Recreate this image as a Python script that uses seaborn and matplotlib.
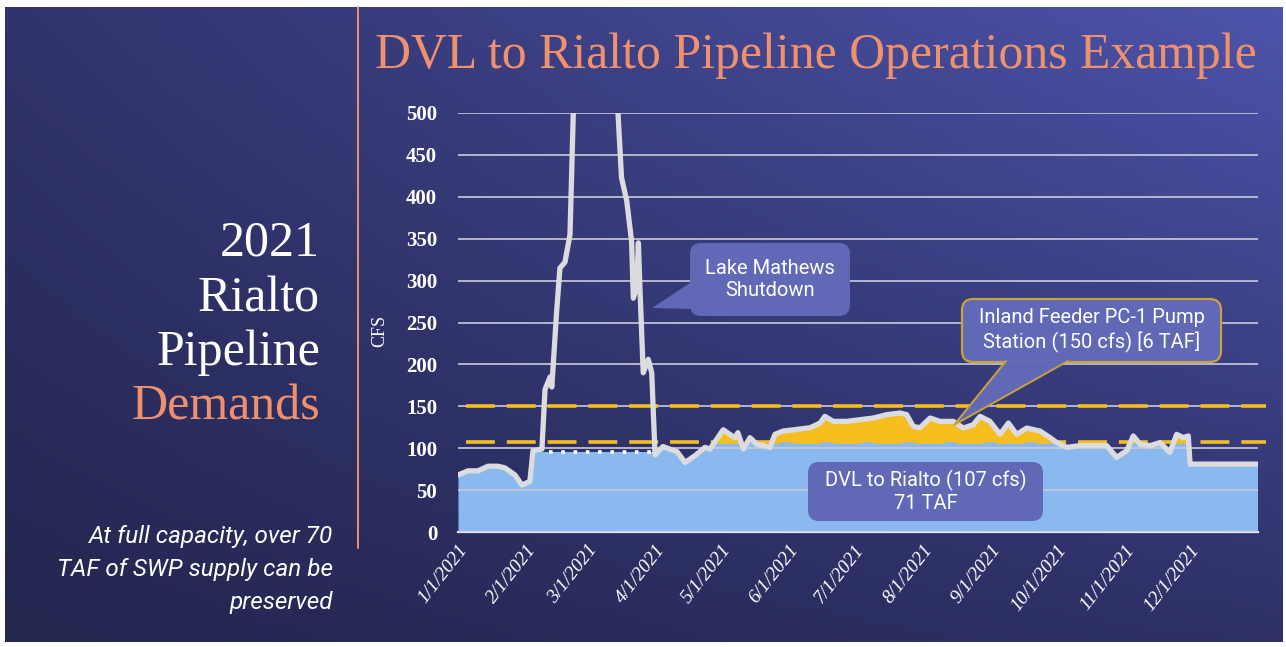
import numpy as np
import pandas as pd
import matplotlib
matplotlib.use("Agg")
import matplotlib.pyplot as plt
from matplotlib.patches import FancyBboxPatch, Polygon
import seaborn as sns

# Total demand on the Rialto pipeline (cfs); x is day of year 2021
demand_day = [0, 4.6, 9.1, 13.7, 18.3, 21.4, 26, 29.2, 32.8, 34.2, 38.3, 39.7, 42, 42.8,
              45, 46.5, 48.8, 51.1, 52.6, 56, 70, 73, 74.6, 77, 79.2, 80, 81.5, 82.3, 83,
              84.5, 86.8, 88.4, 89.9, 93.5, 97.6, 99.9, 103.6, 108.1, 112.7, 115, 121, 124,
              126.4, 127.7, 130.2, 133.2, 136.3, 140, 142.3, 144.6, 148.4, 154.5, 160.6,
              165.2, 167.4, 171.2, 177.3, 183.4, 189.5, 195.6, 201.7, 204.7, 207.7, 210.8,
              215.4, 219.9, 226, 230.6, 235.1, 238.2, 242.7, 247.3, 251.1, 254.9, 259.5,
              265.5, 270.1, 273.2, 277.7, 283.8, 291.4, 296, 300.5, 305.1, 308.1, 311.2,
              315.7, 320.3, 324.8, 327.9, 330.9, 333.2, 334, 365]
demand_cfs = [68, 73, 73, 78.5, 78.5, 76.5, 68, 56, 60.5, 97, 99, 170, 185, 173,
              263, 315, 322, 355, 500, 560, 560, 500, 423, 395, 347, 279, 292, 345, 292,
              190, 206, 190, 92, 102, 98, 96, 83, 91, 101, 99, 122, 116.5,
              112.6, 118.5, 99, 112.6, 104.7, 102.8, 100.8, 116.5, 120.5, 122.4, 124.4,
              130, 138, 132, 132, 134, 136, 140, 142, 140, 126, 124.4,
              136, 132, 132, 124, 128, 138, 132, 116.5, 130, 116.5, 124,
              120.5, 112.6, 106.7, 101, 103, 103, 103, 89, 97, 114.6, 104.7,
              103, 106.7, 95, 116.5, 112.6, 114.6, 81, 81]

dvl_capacity = 107      # DVL to Rialto
pc1_capacity = 150      # Inland Feeder PC-1 pump station
shutdown_start = 38.3   # Lake Mathews shutdown window (day of year)
shutdown_end = 89.9
shutdown_flow = 95

y_ticks = [0, 50, 100, 150, 200, 250, 300, 350, 400, 450, 500]
month_labels = ["1/1/2021", "2/1/2021", "3/1/2021", "4/1/2021", "5/1/2021", "6/1/2021",
                "7/1/2021", "8/1/2021", "9/1/2021", "10/1/2021", "11/1/2021", "12/1/2021"]

SALMON = "#F0916D"
BLUE_FILL = "#8AB9F0"
YELLOW = "#F5BE1E"
CALLOUT = "#6168B5"
SANS = ["Roboto", "DejaVu Sans"]

sns.set_theme(style="white")
plt.rcParams["font.family"] = ["Liberation Serif", "DejaVu Serif"]

W, H = 1286, 647
fig = plt.figure(figsize=(W / 100, H / 100), dpi=100, facecolor="white")

# slide background gradient
bg = fig.add_axes([5 / W, 5 / H, 1278 / W, 635 / H], zorder=-10)
tl = np.array([0.19, 0.20, 0.42]); tr = np.array([0.30, 0.33, 0.67])
bl = np.array([0.14, 0.15, 0.31]); br = np.array([0.18, 0.19, 0.40])
u = np.linspace(0, 1, 200)[None, :, None]
v = np.linspace(0, 1, 100)[:, None, None]
grad = (1 - u) * (1 - v) * tl + u * (1 - v) * tr + (1 - u) * v * bl + u * v * br
bg.imshow(grad, aspect="auto", extent=[0, 1, 0, 1])
bg.axis("off")

# main chart
ax = fig.add_axes([458 / W, 115 / H, 800 / W, 419 / H])
ax.patch.set_alpha(0)
day = np.array(demand_day)
cfs = np.array(demand_cfs)

blue = ax.fill_between(day, 0, cfs, color=BLUE_FILL, lw=0, zorder=1)
clip = Polygon([(0, 0), (0, dvl_capacity), (shutdown_start, dvl_capacity),
                (shutdown_start, shutdown_flow), (shutdown_end, shutdown_flow),
                (shutdown_end, dvl_capacity), (365, dvl_capacity), (365, 0)],
               transform=ax.transData, fill=False, lw=0)
ax.add_patch(clip)
blue.set_clip_path(clip)

ax.fill_between(day, dvl_capacity, np.minimum(cfs, pc1_capacity),
                where=(cfs > dvl_capacity) & (day > shutdown_end),
                interpolate=True, color=YELLOW, lw=0, zorder=1.5)

ax.plot([shutdown_start + 3, shutdown_end - 2], [shutdown_flow, shutdown_flow],
        color="white", lw=2.6, ls=(0, (1, 2.4)), dash_capstyle="butt", zorder=3)

for cap in (pc1_capacity, dvl_capacity):
    ax.axhline(cap, xmin=0.01, xmax=1.01, clip_on=False, color=YELLOW, lw=2.6,
               ls=(0, (8, 3.3)), zorder=3)

sns.lineplot(x=day, y=cfs, ax=ax, color="#DCDCDE", lw=3.8, estimator=None,
             sort=False, zorder=4)

ax.set_xlim(0, 365)
ax.set_ylim(0, 500)
ax.yaxis.grid(True, color="#C9CBDA", lw=1.2)
ax.xaxis.grid(False)
ax.set_axisbelow(False)
for s in ("left", "right", "top"):
    ax.spines[s].set_visible(False)
ax.spines["bottom"].set_color("#E6E8F2")
ax.spines["bottom"].set_linewidth(1.6)

month_starts = (pd.date_range("2021-01-01", periods=13, freq="MS").dayofyear - 1).tolist()
month_starts[-1] = 365
ax.set_xticks(month_starts)
ax.set_xticklabels(month_labels + [""], rotation=52, ha="right", rotation_mode="anchor",
                   fontsize=14, style="italic", color="white")
ax.tick_params(axis="x", direction="in", length=6, width=1.2, color="#E6E8F2", pad=7)
ax.set_yticks(y_ticks)
ax.set_yticklabels([str(t) for t in y_ticks], fontsize=15, fontweight="bold", color="white")
ax.tick_params(axis="y", length=0, pad=15)
ax.set_xlabel("")
ax.set_ylabel("CFS", fontsize=13, color="white")
ax.yaxis.set_label_coords(-0.0875, 0.48)

# overlay in pixel coordinates for slide text and callouts
ov = fig.add_axes([0, 0, 1, 1], zorder=10)
ov.set_xlim(0, W)
ov.set_ylim(H, 0)
ov.axis("off")
ov.patch.set_alpha(0)

ov.plot([358, 358], [7, 548], color=SALMON, lw=1.4)
ov.text(375, 68, "DVL to Rialto Pipeline Operations Example", fontsize=35.8,
        color=SALMON, ha="left", va="baseline")

for txt, yb, col in [("2021", 255, "white"), ("Rialto", 311, "white"),
                     ("Pipeline", 365, "white"), ("Demands", 420, SALMON)]:
    ov.text(320, yb, txt, fontsize=36, color=col, ha="right", va="baseline")

for txt, yb in [("At full capacity, over 70", 543), ("TAF of SWP supply can be", 576),
                ("preserved", 609)]:
    ov.text(333, yb, txt, fontsize=17.5, color="white", ha="right", va="baseline",
            family=SANS, style="italic")


def callout(x0, y0, x1, y1, lines, tail=None, ec=None):
    ov.add_patch(FancyBboxPatch((x0, y0), x1 - x0, y1 - y0,
                                boxstyle="round,pad=0,rounding_size=11",
                                fc=CALLOUT, ec=ec if ec else "none", lw=1.6, zorder=5))
    if tail:
        ov.add_patch(Polygon(tail, closed=True, fc=CALLOUT, ec="none", zorder=6))
        if ec:
            ov.plot([tail[0][0], tail[2][0], tail[1][0]],
                    [tail[0][1], tail[2][1], tail[1][1]], color=ec, lw=1.4, zorder=7)
    ov.text((x0 + x1) / 2, (y0 + y1) / 2, "\n".join(lines), ha="center", va="center",
            fontsize=14.5, color="white", family=SANS, linespacing=1.25, zorder=8)


callout(690, 243, 850, 316, ["Lake Mathews", "Shutdown"],
        tail=[(693, 281), (693, 309), (652, 308)])
callout(962, 299, 1221, 362, ["Inland Feeder PC-1 Pump", "Station (150 cfs) [6 TAF]"],
        tail=[(1006, 361), (1068, 361), (954, 425)], ec="#C9A33A")
callout(808, 462, 1043, 521, ["DVL to Rialto (107 cfs)", "71 TAF"])

fig.savefig("out.png", dpi=100, facecolor="white")
